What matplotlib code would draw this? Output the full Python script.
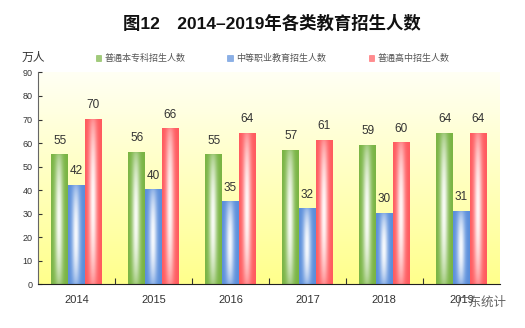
import numpy as np
import matplotlib
matplotlib.use("Agg")
import matplotlib.pyplot as plt
from matplotlib.colors import to_rgb

plt.rcParams['font.family'] = ['Liberation Sans', 'Noto Sans CJK SC']

# data
years = ["2014", "2015", "2016", "2017", "2018", "2019"]
series_names = ["普通本专科招生人数", "中等职业教育招生人数", "普通高中招生人数"]
undergrad = [55, 56, 55, 57, 59, 64]
vocational = [42, 40, 35, 32, 30, 31]
highschool = [70, 66, 64, 61, 60, 64]
colors = ["#79b443", "#5a8edb", "#ff5a5e"]


def bar_gradient(color, nx=40, ny=120):
    # cylinder-like shading: saturated edges, white core strongest mid-height
    c = np.array(to_rgb(color))
    u = np.linspace(0, 1, nx)
    v = np.linspace(0, 1, ny)
    h = np.exp(-((u - 0.47) / 0.24) ** 2)
    g = 0.3 + 0.7 * np.sin(np.pi * v) ** 0.7
    w = 0.95 * np.outer(g, h)
    return c[None, None, :] * (1 - w[..., None]) + w[..., None]


fig = plt.figure(figsize=(5.25, 3.28), dpi=100)
ax = fig.add_axes([0.0724, 0.134, 0.8796, 0.645])

x = np.arange(len(years))
width = 0.217
ax.set_xlim(-0.5, len(years) - 0.5)
ax.set_ylim(0, 90)

# background gradient: near-white top to yellow bottom
bg = np.linspace(0, 1, 100)[:, None]
top = np.array(to_rgb("#fffff4"))
bottom = np.array(to_rgb("#ffff8c"))
bgimg = top[None, None, :] * (1 - bg[..., None]) + bottom[None, None, :] * bg[..., None]
ax.imshow(bgimg, extent=[-0.5, len(years) - 0.5, 0, 90], aspect='auto', zorder=0)

for i, (vals, col) in enumerate(zip([undergrad, vocational, highschool], colors)):
    bars = ax.bar(x + (i - 1) * width, vals, width, color='none', edgecolor='none', zorder=2)
    img = bar_gradient(col)
    for b, val in zip(bars, vals):
        x0, w = b.get_x(), b.get_width()
        ax.imshow(img, extent=[x0, x0 + w, 0, b.get_height()], aspect='auto',
                  origin='lower', zorder=2)
        ax.text(x0 + w / 2, val + 3.5, str(val), ha='center', va='bottom',
                fontsize=8.5, color='#333333', zorder=3)

ax.set_xlim(-0.5, len(years) - 0.5)
ax.set_ylim(0, 90)

ax.set_yticks(range(0, 91, 10))
ax.tick_params(axis='y', direction='in', length=3, labelsize=6.5, colors='#333333', pad=4)
ax.set_xticks(np.arange(0.5, len(years) - 0.5, 1))
ax.set_xticks(x, minor=True)
ax.set_xticklabels([])
ax.set_xticklabels(years, minor=True)
ax.tick_params(axis='x', which='major', direction='in', length=4, color='#333333')
ax.tick_params(axis='x', which='minor', length=0, labelsize=8, pad=8, colors='#333333')
for s in ['top', 'right']:
    ax.spines[s].set_visible(False)
ax.spines['left'].set_color('#666666')
ax.spines['bottom'].set_color('#222222')

fig.text(0.517, 0.93, "图12　2014–2019年各类教育招生人数", ha='center', va='center',
         fontsize=12.5, fontweight='bold', color='#111111')
fig.text(0.063, 0.823, "万人", ha='center', va='center', fontsize=8.5, color='#333333')

# legend
leg_x = [0.183, 0.433, 0.703]
for lx, name, col in zip(leg_x, series_names, colors):
    fig.patches.append(plt.Rectangle((lx, 0.815), 0.010, 0.016, transform=fig.transFigure,
                                     facecolor=col, edgecolor=col, alpha=0.7, lw=0.5))
    fig.text(lx + 0.016, 0.823, name, ha='left', va='center', fontsize=6.5, color='#555555')

# watermark
fig.text(0.870, 0.078, "广东统计", ha='left', va='center', fontsize=9, color='#666666')

fig.savefig("out.png", dpi=100)
